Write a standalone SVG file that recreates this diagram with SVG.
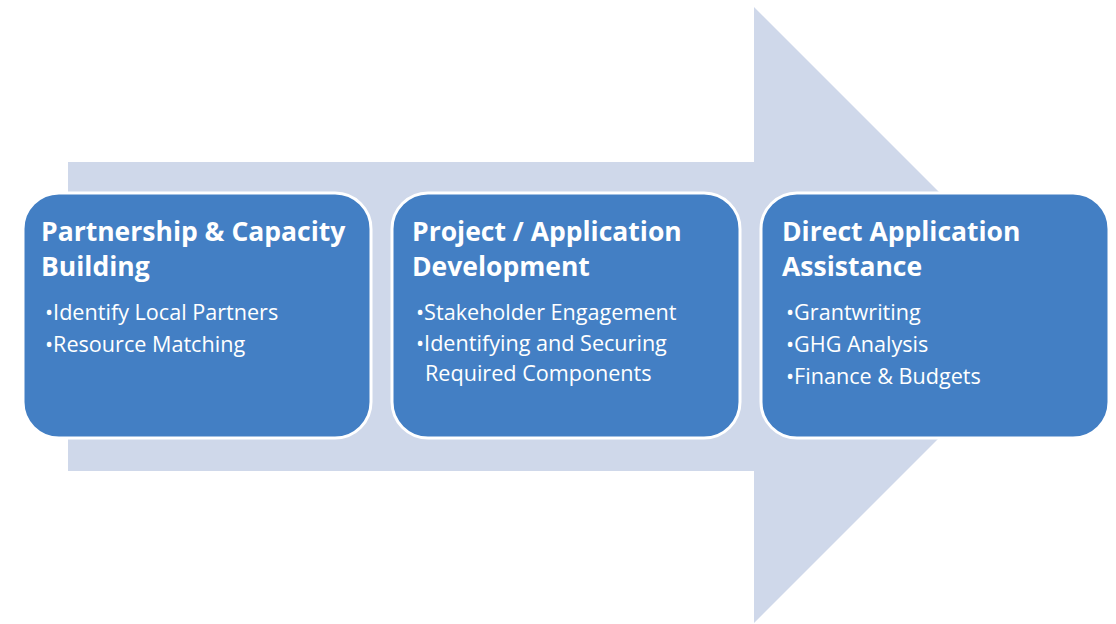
<svg xmlns="http://www.w3.org/2000/svg" width="1116" height="624" viewBox="0 0 1116 624">
<style>
.box{fill:#437FC4;stroke:#FFFFFF;stroke-width:3}
.t{font-family:"Open Sans",Lato,"Liberation Sans",sans-serif;font-weight:bold;font-size:26.5px;fill:#FFFFFF}
.b{font-family:"Open Sans",Lato,"Liberation Sans",sans-serif;font-size:21.6px;fill:#FFFFFF}
</style>
<rect width="1116" height="624" fill="#FFFFFF"/>
<g id="arrow">
<path d="M68,162 H754 V7 L1062,315 L754,623 V471 H68 Z" fill="#CFD8EA"/>
</g>
<g id="connectors"></g>
<g id="node1">
<rect class="box" x="23" y="193" width="348" height="245" rx="36"/>
<text class="t" x="41" y="241">Partnership &amp; Capacity</text>
<text class="t" x="41" y="276">Building</text>
<text class="b" x="45" y="320">•Identify Local Partners</text>
<text class="b" x="45" y="352">•Resource Matching</text>
</g>
<g id="node2">
<rect class="box" x="392" y="193" width="348" height="245" rx="36"/>
<text class="t" x="412" y="241">Project / Application</text>
<text class="t" x="412" y="276">Development</text>
<text class="b" x="416" y="320">•Stakeholder Engagement</text>
<text class="b" x="416" y="351">•Identifying and Securing</text>
<text class="b" x="425" y="381">Required Components</text>
</g>
<g id="node3">
<rect class="box" x="761" y="193" width="348" height="245" rx="36"/>
<text class="t" x="782" y="241">Direct Application</text>
<text class="t" x="782" y="276">Assistance</text>
<text class="b" x="786" y="320">•Grantwriting</text>
<text class="b" x="786" y="352">•GHG Analysis</text>
<text class="b" x="786" y="384">•Finance &amp; Budgets</text>
</g>
</svg>
